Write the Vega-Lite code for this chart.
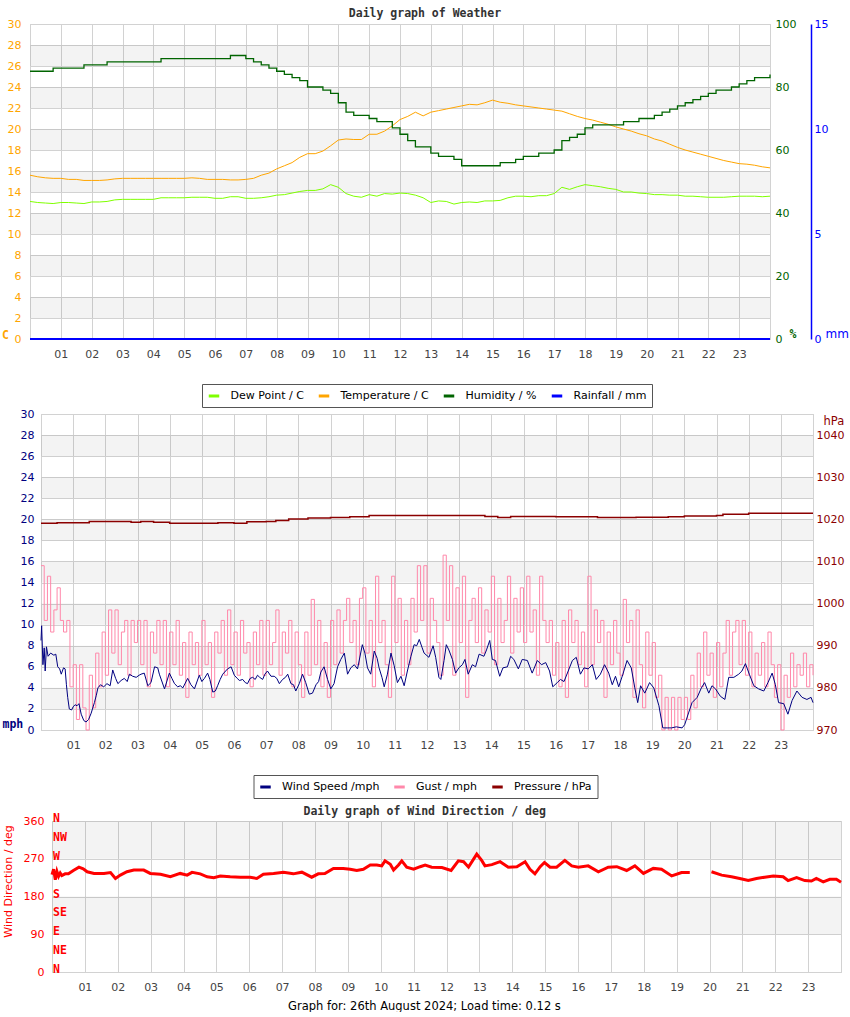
{
  "$schema": "https://vega.github.io/schema/vega-lite/v6.json",
  "background": "white",
  "padding": {"left": 0, "top": 7, "right": 0, "bottom": 0},
  "title": {"text": "Graph for: 26th August 2024; Load time: 0.12 s", "orient": "bottom", "anchor": "middle", "frame": "bounds", "font": "DejaVu Sans", "fontSize": 11.5, "fontWeight": "normal", "color": "#000000", "offset": 8},
  "spacing": -1,
  "resolve": {"scale": {"color": "independent"}, "legend": {"color": "independent"}},
  "datasets": {
    "bands30": [{"lo": 2, "hi": 4}, {"lo": 6, "hi": 8}, {"lo": 10, "hi": 12}, {"lo": 14, "hi": 16}, {"lo": 18, "hi": 20}, {"lo": 22, "hi": 24}, {"lo": 26, "hi": 28}],
    "bands360": [{"lo": 90, "hi": 180}, {"lo": 270, "hi": 360}],
    "rain": [{"h": 0, "r": 0}, {"h": 24, "r": 0}],
    "weather": [
      {"h":0,"t":15.6,"d":13.1,"u":85},{"h":0.25,"t":15.45,"d":13.0,"u":85},{"h":0.5,"t":15.35,"d":12.95,"u":85},{"h":0.75,"t":15.3,"d":12.9,"u":86},
      {"h":1,"t":15.3,"d":13.0,"u":86},{"h":1.25,"t":15.2,"d":13.0,"u":86},{"h":1.5,"t":15.2,"d":12.95,"u":86},{"h":1.75,"t":15.1,"d":12.9,"u":87},
      {"h":2,"t":15.1,"d":13.05,"u":87},{"h":2.25,"t":15.1,"d":13.05,"u":87},{"h":2.5,"t":15.15,"d":13.1,"u":88},{"h":2.75,"t":15.25,"d":13.25,"u":88},
      {"h":3,"t":15.3,"d":13.3,"u":88},{"h":3.25,"t":15.3,"d":13.3,"u":88},{"h":3.5,"t":15.3,"d":13.3,"u":88},{"h":3.75,"t":15.3,"d":13.3,"u":88},
      {"h":4,"t":15.3,"d":13.3,"u":88},{"h":4.25,"t":15.3,"d":13.45,"u":89},{"h":4.5,"t":15.3,"d":13.45,"u":89},{"h":4.75,"t":15.3,"d":13.45,"u":89},
      {"h":5,"t":15.3,"d":13.45,"u":89},{"h":5.25,"t":15.35,"d":13.5,"u":89},{"h":5.5,"t":15.3,"d":13.5,"u":89},{"h":5.75,"t":15.2,"d":13.5,"u":89},
      {"h":6,"t":15.2,"d":13.4,"u":89},{"h":6.25,"t":15.2,"d":13.4,"u":89},{"h":6.5,"t":15.15,"d":13.55,"u":90},{"h":6.75,"t":15.15,"d":13.55,"u":90},
      {"h":7,"t":15.2,"d":13.4,"u":89},{"h":7.25,"t":15.3,"d":13.4,"u":88},{"h":7.5,"t":15.6,"d":13.45,"u":87},{"h":7.75,"t":15.8,"d":13.55,"u":86},
      {"h":8,"t":16.2,"d":13.7,"u":85},{"h":8.25,"t":16.5,"d":13.75,"u":84},{"h":8.5,"t":16.8,"d":13.9,"u":83},{"h":8.75,"t":17.3,"d":14.05,"u":82},
      {"h":9,"t":17.65,"d":14.15,"u":80},{"h":9.25,"t":17.65,"d":14.15,"u":80},{"h":9.5,"t":17.9,"d":14.3,"u":79},{"h":9.75,"t":18.4,"d":14.7,"u":78},
      {"h":10,"t":18.95,"d":14.45,"u":75},{"h":10.25,"t":19.05,"d":13.85,"u":72},{"h":10.5,"t":19.0,"d":13.6,"u":71},{"h":10.75,"t":19.0,"d":13.5,"u":71},
      {"h":11,"t":19.5,"d":13.75,"u":70},{"h":11.25,"t":19.5,"d":13.6,"u":69},{"h":11.5,"t":19.8,"d":13.85,"u":69},{"h":11.75,"t":20.3,"d":13.8,"u":67},
      {"h":12,"t":20.9,"d":13.9,"u":65},{"h":12.25,"t":21.2,"d":13.85,"u":63},{"h":12.5,"t":21.6,"d":13.7,"u":61},{"h":12.75,"t":21.25,"d":13.45,"u":61},
      {"h":13,"t":21.6,"d":13.0,"u":59},{"h":13.25,"t":21.75,"d":13.15,"u":58},{"h":13.5,"t":21.9,"d":13.1,"u":58},{"h":13.75,"t":22.05,"d":12.85,"u":57},
      {"h":14,"t":22.2,"d":13.0,"u":55},{"h":14.25,"t":22.35,"d":13.05,"u":55},{"h":14.5,"t":22.3,"d":13.0,"u":55},{"h":14.75,"t":22.5,"d":13.15,"u":55},
      {"h":15,"t":22.75,"d":13.15,"u":55},{"h":15.25,"t":22.55,"d":13.2,"u":56},{"h":15.5,"t":22.45,"d":13.45,"u":56},{"h":15.75,"t":22.3,"d":13.6,"u":57},
      {"h":16,"t":22.2,"d":13.6,"u":58},{"h":16.25,"t":22.1,"d":13.55,"u":58},{"h":16.5,"t":22.0,"d":13.65,"u":59},{"h":16.75,"t":21.9,"d":13.65,"u":59},
      {"h":17,"t":21.8,"d":13.85,"u":60},{"h":17.25,"t":21.7,"d":14.45,"u":63},{"h":17.5,"t":21.45,"d":14.25,"u":64},{"h":17.75,"t":21.2,"d":14.5,"u":65},
      {"h":18,"t":21.0,"d":14.7,"u":67},{"h":18.25,"t":20.85,"d":14.6,"u":68},{"h":18.5,"t":20.65,"d":14.5,"u":68},{"h":18.75,"t":20.45,"d":14.35,"u":68},
      {"h":19,"t":20.2,"d":14.25,"u":68},{"h":19.25,"t":20.0,"d":14.0,"u":69},{"h":19.5,"t":19.8,"d":14.0,"u":69},{"h":19.75,"t":19.55,"d":13.9,"u":70},
      {"h":20,"t":19.35,"d":13.85,"u":70},{"h":20.25,"t":19.05,"d":13.75,"u":71},{"h":20.5,"t":18.85,"d":13.75,"u":72},{"h":20.75,"t":18.55,"d":13.7,"u":73},
      {"h":21,"t":18.25,"d":13.7,"u":74},{"h":21.25,"t":18.0,"d":13.6,"u":75},{"h":21.5,"t":17.8,"d":13.6,"u":76},{"h":21.75,"t":17.6,"d":13.55,"u":77},
      {"h":22,"t":17.4,"d":13.5,"u":78},{"h":22.25,"t":17.2,"d":13.5,"u":79},{"h":22.5,"t":17.0,"d":13.5,"u":79},{"h":22.75,"t":16.85,"d":13.55,"u":80},
      {"h":23,"t":16.7,"d":13.6,"u":81},{"h":23.25,"t":16.65,"d":13.6,"u":82},{"h":23.5,"t":16.55,"d":13.6,"u":83},{"h":23.75,"t":16.4,"d":13.55,"u":83},
      {"h":24,"t":16.3,"d":13.6,"u":84}
    ],
    "wind": [
      {"h":0,"s":8.5},{"h":0.02,"s":9.9},{"h":0.06,"s":6.2},{"h":0.1,"s":7.8},{"h":0.13,"s":5.6},{"h":0.17,"s":7.9},{"h":0.22,"s":7.0},{"h":0.3,"s":7.3},{"h":0.4,"s":7.1},{"h":0.46,"s":7.2},
      {"h":0.52,"s":6.0},{"h":0.58,"s":5.8},{"h":0.63,"s":5.3},{"h":0.7,"s":5.9},{"h":0.75,"s":5.8},{"h":0.79,"s":4.3},{"h":0.83,"s":3.1},{"h":0.88,"s":2.0},{"h":0.95,"s":1.9},{"h":1.0,"s":2.2},
      {"h":1.06,"s":2.4},{"h":1.12,"s":2.3},{"h":1.18,"s":2.5},{"h":1.25,"s":1.5},{"h":1.33,"s":0.9},{"h":1.4,"s":0.76},{"h":1.48,"s":1.0},{"h":1.56,"s":1.6},{"h":1.66,"s":2.6},{"h":1.72,"s":3.3},
      {"h":1.77,"s":4.0},{"h":1.85,"s":4.3},{"h":1.95,"s":4.1},{"h":2.05,"s":4.4},{"h":2.15,"s":4.2},{"h":2.23,"s":5.7},{"h":2.32,"s":4.9},{"h":2.39,"s":4.4},{"h":2.49,"s":4.7},{"h":2.59,"s":4.9},
      {"h":2.68,"s":4.6},{"h":2.75,"s":5.3},{"h":2.85,"s":5.1},{"h":2.96,"s":5.0},{"h":3.05,"s":5.2},{"h":3.11,"s":5.3},{"h":3.21,"s":5.4},{"h":3.32,"s":4.2},{"h":3.42,"s":4.5},{"h":3.53,"s":6.0},
      {"h":3.63,"s":5.9},{"h":3.68,"s":5.3},{"h":3.84,"s":3.9},{"h":3.99,"s":5.4},{"h":4.07,"s":4.9},{"h":4.15,"s":4.4},{"h":4.25,"s":4.1},{"h":4.33,"s":4.2},{"h":4.41,"s":4.0},{"h":4.56,"s":4.9},
      {"h":4.66,"s":4.3},{"h":4.77,"s":3.9},{"h":4.92,"s":5.2},{"h":5.0,"s":4.6},{"h":5.08,"s":4.9},{"h":5.18,"s":5.4},{"h":5.25,"s":4.8},{"h":5.34,"s":3.6},{"h":5.42,"s":3.7},{"h":5.49,"s":4.2},
      {"h":5.57,"s":4.8},{"h":5.65,"s":5.3},{"h":5.8,"s":5.8},{"h":5.91,"s":6.0},{"h":6.01,"s":5.2},{"h":6.1,"s":4.9},{"h":6.17,"s":4.7},{"h":6.27,"s":4.8},{"h":6.35,"s":4.5},{"h":6.42,"s":4.4},
      {"h":6.5,"s":4.9},{"h":6.58,"s":5.0},{"h":6.66,"s":4.8},{"h":6.73,"s":5.2},{"h":6.8,"s":5.0},{"h":6.89,"s":4.8},{"h":6.96,"s":5.3},{"h":7.04,"s":5.6},{"h":7.15,"s":5.1},{"h":7.25,"s":5.1},
      {"h":7.33,"s":4.9},{"h":7.41,"s":4.4},{"h":7.51,"s":4.8},{"h":7.6,"s":5.0},{"h":7.67,"s":5.3},{"h":7.77,"s":4.4},{"h":7.85,"s":4.3},{"h":7.92,"s":3.7},{"h":8.03,"s":4.4},{"h":8.13,"s":5.3},
      {"h":8.23,"s":4.5},{"h":8.34,"s":3.4},{"h":8.44,"s":3.5},{"h":8.55,"s":4.3},{"h":8.63,"s":4.6},{"h":8.7,"s":5.5},{"h":8.8,"s":6.0},{"h":8.91,"s":4.8},{"h":9.01,"s":3.9},{"h":9.11,"s":4.4},
      {"h":9.22,"s":6.0},{"h":9.32,"s":6.7},{"h":9.43,"s":7.3},{"h":9.53,"s":5.3},{"h":9.63,"s":5.9},{"h":9.74,"s":6.2},{"h":9.84,"s":5.8},{"h":9.99,"s":8.1},{"h":10.07,"s":7.3},{"h":10.15,"s":5.9},
      {"h":10.25,"s":5.3},{"h":10.36,"s":7.5},{"h":10.45,"s":6.8},{"h":10.51,"s":5.9},{"h":10.6,"s":5.0},{"h":10.67,"s":4.1},{"h":10.77,"s":5.3},{"h":10.88,"s":7.3},{"h":10.98,"s":6.1},{"h":11.08,"s":4.5},
      {"h":11.19,"s":5.1},{"h":11.29,"s":4.2},{"h":11.39,"s":5.6},{"h":11.5,"s":7.0},{"h":11.6,"s":8.1},{"h":11.68,"s":8.0},{"h":11.76,"s":8.6},{"h":11.85,"s":7.8},{"h":11.91,"s":7.3},{"h":12.06,"s":6.9},
      {"h":12.19,"s":8.0},{"h":12.27,"s":6.9},{"h":12.37,"s":5.0},{"h":12.43,"s":4.8},{"h":12.53,"s":6.6},{"h":12.6,"s":8.1},{"h":12.68,"s":7.6},{"h":12.79,"s":6.7},{"h":12.89,"s":5.4},{"h":12.99,"s":5.9},
      {"h":13.1,"s":6.2},{"h":13.18,"s":6.7},{"h":13.28,"s":5.3},{"h":13.41,"s":6.2},{"h":13.51,"s":6.0},{"h":13.62,"s":7.2},{"h":13.77,"s":7.0},{"h":13.85,"s":7.6},{"h":13.95,"s":8.5},{"h":14.03,"s":6.7},
      {"h":14.13,"s":6.6},{"h":14.26,"s":5.1},{"h":14.36,"s":5.9},{"h":14.5,"s":6.0},{"h":14.6,"s":7.0},{"h":14.7,"s":6.7},{"h":14.84,"s":5.8},{"h":14.96,"s":6.7},{"h":15.12,"s":6.6},{"h":15.27,"s":5.4},
      {"h":15.43,"s":6.6},{"h":15.56,"s":6.2},{"h":15.69,"s":6.4},{"h":15.81,"s":5.6},{"h":15.91,"s":4.1},{"h":16.05,"s":4.5},{"h":16.15,"s":4.8},{"h":16.26,"s":4.6},{"h":16.39,"s":5.6},{"h":16.52,"s":6.6},
      {"h":16.64,"s":6.9},{"h":16.77,"s":5.3},{"h":16.88,"s":5.9},{"h":17.01,"s":5.8},{"h":17.14,"s":6.2},{"h":17.26,"s":4.8},{"h":17.39,"s":5.3},{"h":17.52,"s":6.2},{"h":17.65,"s":5.4},{"h":17.76,"s":4.3},
      {"h":17.86,"s":5.1},{"h":17.96,"s":4.1},{"h":18.09,"s":5.3},{"h":18.22,"s":6.6},{"h":18.35,"s":5.9},{"h":18.46,"s":4.0},{"h":18.55,"s":2.6},{"h":18.64,"s":4.2},{"h":18.77,"s":3.5},{"h":18.92,"s":4.5},
      {"h":19.05,"s":4.0},{"h":19.21,"s":2.3},{"h":19.33,"s":0.2},{"h":19.47,"s":0.2},{"h":19.6,"s":0.2},{"h":19.75,"s":0.3},{"h":19.93,"s":0.2},{"h":20.01,"s":0.5},{"h":20.14,"s":1.7},{"h":20.24,"s":2.6},
      {"h":20.4,"s":3.1},{"h":20.53,"s":4.0},{"h":20.63,"s":4.5},{"h":20.76,"s":3.5},{"h":20.86,"s":4.2},{"h":20.97,"s":3.9},{"h":21.12,"s":3.2},{"h":21.26,"s":2.9},{"h":21.38,"s":5.0},{"h":21.54,"s":5.0},
      {"h":21.69,"s":5.3},{"h":21.79,"s":5.6},{"h":21.9,"s":6.3},{"h":22.02,"s":5.3},{"h":22.16,"s":4.2},{"h":22.31,"s":3.9},{"h":22.47,"s":3.7},{"h":22.6,"s":4.5},{"h":22.73,"s":5.4},{"h":22.83,"s":4.3},
      {"h":22.93,"s":2.6},{"h":23.09,"s":2.5},{"h":23.22,"s":1.5},{"h":23.35,"s":2.8},{"h":23.5,"s":3.7},{"h":23.66,"s":3.1},{"h":23.81,"s":2.9},{"h":23.94,"s":3.1},{"h":24,"s":2.6}
    ],
    "gust": [
      {"h":0,"g":15.6},{"h":0.1,"g":10.4},{"h":0.2,"g":14.6},{"h":0.3,"g":9.3},{"h":0.4,"g":11.4},{"h":0.5,"g":13.5},{"h":0.6,"g":10.4},{"h":0.7,"g":9.3},{"h":0.8,"g":10.4},{"h":0.9,"g":4.1},
      {"h":1,"g":6.2},{"h":1.1,"g":1.0},{"h":1.2,"g":6.2},{"h":1.3,"g":2.1},{"h":1.4,"g":0},{"h":1.5,"g":5.2},{"h":1.6,"g":2.1},{"h":1.7,"g":7.3},{"h":1.8,"g":4.1},{"h":1.9,"g":9.3},
      {"h":2,"g":5.2},{"h":2.1,"g":11.4},{"h":2.2,"g":7.3},{"h":2.3,"g":11.4},{"h":2.4,"g":6.2},{"h":2.5,"g":9.3},{"h":2.6,"g":10.4},{"h":2.7,"g":5.2},{"h":2.8,"g":10.4},{"h":2.9,"g":8.3},
      {"h":3,"g":10.4},{"h":3.1,"g":6.2},{"h":3.2,"g":10.4},{"h":3.3,"g":4.1},{"h":3.4,"g":9.3},{"h":3.5,"g":7.3},{"h":3.6,"g":10.4},{"h":3.7,"g":6.2},{"h":3.8,"g":10.4},{"h":3.9,"g":4.1},
      {"h":4,"g":9.3},{"h":4.1,"g":6.2},{"h":4.2,"g":10.4},{"h":4.3,"g":5.2},{"h":4.4,"g":8.3},{"h":4.5,"g":3.1},{"h":4.6,"g":9.3},{"h":4.7,"g":6.2},{"h":4.8,"g":8.3},{"h":4.9,"g":5.2},
      {"h":5,"g":10.4},{"h":5.1,"g":6.2},{"h":5.2,"g":8.3},{"h":5.3,"g":3.1},{"h":5.4,"g":9.3},{"h":5.5,"g":7.3},{"h":5.6,"g":10.4},{"h":5.7,"g":5.2},{"h":5.8,"g":11.4},{"h":5.9,"g":6.2},
      {"h":6,"g":9.3},{"h":6.1,"g":5.2},{"h":6.2,"g":10.4},{"h":6.3,"g":7.3},{"h":6.4,"g":8.3},{"h":6.5,"g":4.1},{"h":6.6,"g":9.3},{"h":6.7,"g":6.2},{"h":6.8,"g":10.4},{"h":6.9,"g":5.2},
      {"h":7,"g":10.4},{"h":7.1,"g":6.2},{"h":7.2,"g":8.3},{"h":7.3,"g":11.4},{"h":7.4,"g":5.2},{"h":7.5,"g":9.3},{"h":7.6,"g":7.3},{"h":7.7,"g":10.4},{"h":7.8,"g":4.1},{"h":7.9,"g":9.3},
      {"h":8,"g":6.2},{"h":8.1,"g":3.1},{"h":8.2,"g":9.3},{"h":8.3,"g":5.2},{"h":8.4,"g":12.4},{"h":8.5,"g":6.2},{"h":8.6,"g":10.4},{"h":8.7,"g":4.1},{"h":8.8,"g":8.3},{"h":8.9,"g":3.1},
      {"h":9,"g":10.4},{"h":9.1,"g":6.2},{"h":9.2,"g":11.4},{"h":9.3,"g":7.3},{"h":9.4,"g":10.4},{"h":9.5,"g":12.5},{"h":9.6,"g":8.3},{"h":9.7,"g":10.4},{"h":9.8,"g":6.2},{"h":9.9,"g":12.5},
      {"h":10,"g":13.5},{"h":10.1,"g":7.3},{"h":10.2,"g":10.4},{"h":10.3,"g":4.1},{"h":10.4,"g":14.6},{"h":10.5,"g":8.3},{"h":10.6,"g":10.4},{"h":10.7,"g":6.2},{"h":10.8,"g":3.1},{"h":10.9,"g":14.6},
      {"h":11,"g":8.3},{"h":11.1,"g":12.5},{"h":11.2,"g":5.2},{"h":11.3,"g":10.4},{"h":11.4,"g":6.2},{"h":11.5,"g":12.5},{"h":11.6,"g":9.3},{"h":11.7,"g":15.6},{"h":11.8,"g":10.4},{"h":11.9,"g":15.6},
      {"h":12,"g":7.3},{"h":12.1,"g":12.5},{"h":12.2,"g":10.4},{"h":12.3,"g":8.3},{"h":12.4,"g":5.2},{"h":12.5,"g":16.6},{"h":12.6,"g":10.4},{"h":12.7,"g":15.6},{"h":12.8,"g":5.2},{"h":12.9,"g":13.5},
      {"h":13,"g":8.3},{"h":13.1,"g":14.6},{"h":13.2,"g":3.1},{"h":13.3,"g":10.4},{"h":13.4,"g":12.5},{"h":13.5,"g":8.3},{"h":13.6,"g":13.5},{"h":13.7,"g":7.3},{"h":13.8,"g":11.4},{"h":13.9,"g":9.3},
      {"h":14,"g":14.6},{"h":14.1,"g":6.2},{"h":14.2,"g":12.5},{"h":14.3,"g":8.3},{"h":14.4,"g":10.4},{"h":14.5,"g":14.6},{"h":14.6,"g":7.3},{"h":14.7,"g":12.5},{"h":14.8,"g":9.3},{"h":14.9,"g":13.5},
      {"h":15,"g":8.3},{"h":15.1,"g":14.6},{"h":15.2,"g":9.3},{"h":15.3,"g":11.4},{"h":15.4,"g":5.2},{"h":15.5,"g":14.6},{"h":15.6,"g":10.4},{"h":15.7,"g":8.3},{"h":15.8,"g":10.4},{"h":15.9,"g":5.2},
      {"h":16,"g":8.3},{"h":16.1,"g":4.1},{"h":16.2,"g":10.4},{"h":16.3,"g":3.1},{"h":16.4,"g":11.4},{"h":16.5,"g":8.3},{"h":16.6,"g":10.4},{"h":16.7,"g":6.2},{"h":16.8,"g":9.3},{"h":16.9,"g":4.1},
      {"h":17,"g":14.6},{"h":17.1,"g":6.2},{"h":17.2,"g":11.4},{"h":17.3,"g":8.3},{"h":17.4,"g":10.4},{"h":17.5,"g":3.1},{"h":17.6,"g":9.3},{"h":17.7,"g":6.2},{"h":17.8,"g":10.4},{"h":17.9,"g":7.3},
      {"h":18,"g":5.2},{"h":18.1,"g":12.4},{"h":18.2,"g":8.3},{"h":18.3,"g":10.4},{"h":18.4,"g":3.1},{"h":18.5,"g":11.4},{"h":18.6,"g":6.2},{"h":18.7,"g":2.1},{"h":18.8,"g":9.3},{"h":18.9,"g":5.2},
      {"h":19,"g":8.3},{"h":19.1,"g":3.1},{"h":19.2,"g":5.2},{"h":19.3,"g":0},{"h":19.4,"g":3.1},{"h":19.5,"g":0},{"h":19.6,"g":3.1},{"h":19.7,"g":0},{"h":19.8,"g":3.1},{"h":19.9,"g":1.0},
      {"h":20,"g":3.1},{"h":20.1,"g":1.0},{"h":20.2,"g":5.2},{"h":20.3,"g":2.1},{"h":20.4,"g":7.3},{"h":20.5,"g":4.1},{"h":20.6,"g":9.3},{"h":20.7,"g":5.2},{"h":20.8,"g":7.3},{"h":20.9,"g":3.1},
      {"h":21,"g":8.3},{"h":21.1,"g":4.1},{"h":21.2,"g":7.3},{"h":21.3,"g":10.4},{"h":21.4,"g":5.2},{"h":21.5,"g":9.3},{"h":21.6,"g":10.4},{"h":21.7,"g":6.2},{"h":21.8,"g":10.4},{"h":21.9,"g":5.2},
      {"h":22,"g":9.3},{"h":22.1,"g":4.1},{"h":22.2,"g":7.3},{"h":22.3,"g":5.2},{"h":22.4,"g":8.3},{"h":22.5,"g":4.1},{"h":22.6,"g":9.3},{"h":22.7,"g":6.2},{"h":22.8,"g":3.1},{"h":22.9,"g":6.2},
      {"h":23,"g":0},{"h":23.1,"g":5.2},{"h":23.2,"g":3.1},{"h":23.3,"g":7.3},{"h":23.4,"g":4.1},{"h":23.5,"g":6.2},{"h":23.6,"g":5.2},{"h":23.7,"g":7.3},{"h":23.8,"g":4.1},{"h":23.9,"g":6.2},
      {"h":24,"g":5.2}
    ],
    "pres": [
      {"h":0,"p":1019.1},{"h":0.5,"p":1019.2},{"h":1.5,"p":1019.5},{"h":2.8,"p":1019.3},{"h":3.1,"p":1019.5},{"h":3.5,"p":1019.3},{"h":4.0,"p":1019.1},
      {"h":5.5,"p":1019.2},{"h":6.0,"p":1019.1},{"h":6.4,"p":1019.4},{"h":7.0,"p":1019.5},{"h":7.3,"p":1019.75},{"h":7.7,"p":1020.1},{"h":8.3,"p":1020.3},
      {"h":9.0,"p":1020.45},{"h":9.6,"p":1020.6},{"h":10.2,"p":1020.9},{"h":13.8,"p":1020.7},{"h":14.2,"p":1020.45},{"h":14.6,"p":1020.7},{"h":16.0,"p":1020.6},
      {"h":17.3,"p":1020.45},{"h":18.5,"p":1020.5},{"h":19.5,"p":1020.6},{"h":20.0,"p":1020.8},{"h":21.0,"p":1020.9},{"h":21.2,"p":1021.2},{"h":22.0,"p":1021.45},{"h":24,"p":1021.45}
    ],
    "dir": [
      {"h":0,"deg":232,"seg":"a"},{"h":0.05,"deg":245,"seg":"a"},{"h":0.1,"deg":220,"seg":"a"},{"h":0.15,"deg":240,"seg":"a"},{"h":0.2,"deg":228,"seg":"a"},{"h":0.25,"deg":236,"seg":"a"},{"h":0.3,"deg":230,"seg":"a"},
      {"h":0.4,"deg":234,"seg":"a"},{"h":0.5,"deg":234,"seg":"a"},{"h":0.65,"deg":242,"seg":"a"},{"h":0.82,"deg":250,"seg":"a"},{"h":0.95,"deg":246,"seg":"a"},{"h":1.07,"deg":239,"seg":"a"},
      {"h":1.28,"deg":235,"seg":"a"},{"h":1.58,"deg":235,"seg":"a"},{"h":1.78,"deg":237,"seg":"a"},{"h":1.93,"deg":223,"seg":"a"},{"h":2.08,"deg":231,"seg":"a"},{"h":2.28,"deg":239,"seg":"a"},
      {"h":2.49,"deg":243,"seg":"a"},{"h":2.79,"deg":243,"seg":"a"},{"h":2.99,"deg":235,"seg":"a"},{"h":3.3,"deg":233,"seg":"a"},{"h":3.6,"deg":227,"seg":"a"},{"h":3.9,"deg":235,"seg":"a"},
      {"h":4.11,"deg":231,"seg":"a"},{"h":4.26,"deg":237.5,"seg":"a"},{"h":4.51,"deg":234,"seg":"a"},{"h":4.72,"deg":227,"seg":"a"},{"h":4.92,"deg":225,"seg":"a"},{"h":5.12,"deg":229,"seg":"a"},
      {"h":5.42,"deg":227,"seg":"a"},{"h":5.73,"deg":226,"seg":"a"},{"h":6.03,"deg":226,"seg":"a"},{"h":6.23,"deg":223,"seg":"a"},{"h":6.43,"deg":233,"seg":"a"},{"h":6.74,"deg":235,"seg":"a"},
      {"h":7.04,"deg":238,"seg":"a"},{"h":7.34,"deg":234,"seg":"a"},{"h":7.6,"deg":238,"seg":"a"},{"h":7.9,"deg":226,"seg":"a"},{"h":8.1,"deg":234,"seg":"a"},{"h":8.3,"deg":235,"seg":"a"},
      {"h":8.56,"deg":247,"seg":"a"},{"h":8.86,"deg":247,"seg":"a"},{"h":9.07,"deg":245,"seg":"a"},{"h":9.27,"deg":242,"seg":"a"},{"h":9.47,"deg":245,"seg":"a"},{"h":9.68,"deg":255,"seg":"a"},
      {"h":9.88,"deg":255,"seg":"a"},{"h":10.03,"deg":253,"seg":"a"},{"h":10.13,"deg":265,"seg":"a"},{"h":10.29,"deg":257,"seg":"a"},{"h":10.39,"deg":243,"seg":"a"},{"h":10.54,"deg":255,"seg":"a"},
      {"h":10.64,"deg":265,"seg":"a"},{"h":10.79,"deg":250,"seg":"a"},{"h":11.0,"deg":245,"seg":"a"},{"h":11.2,"deg":251,"seg":"a"},{"h":11.35,"deg":255,"seg":"a"},{"h":11.55,"deg":250,"seg":"a"},
      {"h":11.86,"deg":249,"seg":"a"},{"h":12.14,"deg":242,"seg":"a"},{"h":12.36,"deg":265,"seg":"a"},{"h":12.52,"deg":263,"seg":"a"},{"h":12.67,"deg":250,"seg":"a"},{"h":12.92,"deg":281,"seg":"a"},
      {"h":13.07,"deg":266,"seg":"a"},{"h":13.17,"deg":253,"seg":"a"},{"h":13.38,"deg":256,"seg":"a"},{"h":13.63,"deg":263,"seg":"a"},{"h":13.88,"deg":250,"seg":"a"},{"h":14.14,"deg":251,"seg":"a"},
      {"h":14.39,"deg":263,"seg":"a"},{"h":14.54,"deg":245,"seg":"a"},{"h":14.69,"deg":234,"seg":"a"},{"h":14.85,"deg":251,"seg":"a"},{"h":14.98,"deg":261,"seg":"a"},{"h":15.15,"deg":250,"seg":"a"},
      {"h":15.35,"deg":250,"seg":"a"},{"h":15.6,"deg":266,"seg":"a"},{"h":15.81,"deg":253,"seg":"a"},{"h":16.01,"deg":250,"seg":"a"},{"h":16.31,"deg":253,"seg":"a"},{"h":16.62,"deg":239,"seg":"a"},
      {"h":16.92,"deg":250,"seg":"a"},{"h":17.18,"deg":251,"seg":"a"},{"h":17.48,"deg":242,"seg":"a"},{"h":17.73,"deg":253,"seg":"a"},{"h":17.99,"deg":235,"seg":"a"},{"h":18.29,"deg":247,"seg":"a"},
      {"h":18.54,"deg":245,"seg":"a"},{"h":18.85,"deg":229,"seg":"a"},{"h":19.15,"deg":237,"seg":"a"},{"h":19.4,"deg":237,"seg":"a"},
      {"h":20.06,"deg":239,"seg":"b"},{"h":20.37,"deg":231,"seg":"b"},{"h":20.67,"deg":227,"seg":"b"},{"h":20.92,"deg":223,"seg":"b"},{"h":21.18,"deg":218,"seg":"b"},{"h":21.43,"deg":223,"seg":"b"},
      {"h":21.68,"deg":226,"seg":"b"},{"h":21.94,"deg":229,"seg":"b"},{"h":22.24,"deg":227,"seg":"b"},{"h":22.39,"deg":218,"seg":"b"},{"h":22.65,"deg":225,"seg":"b"},{"h":22.9,"deg":218,"seg":"b"},
      {"h":23.1,"deg":217,"seg":"b"},{"h":23.25,"deg":223,"seg":"b"},{"h":23.46,"deg":215,"seg":"b"},{"h":23.66,"deg":221,"seg":"b"},{"h":23.86,"deg":221,"seg":"b"},{"h":24,"deg":214,"seg":"b"}
    ],
    "compass": [{"deg":360,"lab":"N"},{"deg":315,"lab":"NW"},{"deg":270,"lab":"W"},{"deg":180,"lab":"S"},{"deg":135,"lab":"SE"},{"deg":90,"lab":"E"},{"deg":45,"lab":"NE"},{"deg":0,"lab":"N"}]
  },
  "vconcat": [
    {
      "spacing": 0,
      "hconcat": [
        {"width": 1, "height": 1, "data": {"values": []}, "mark": "point", "view": {"stroke": null}},
        {
          "title": {"text": "Daily graph of Weather", "anchor": "middle", "frame": "bounds", "offset": -1},
          "width": 740,
          "height": 315,
          "layer": [
            {
              "data": {"name": "bands30"},
              "mark": {"type": "rect", "fill": "#000000", "fillOpacity": 0.047},
              "encoding": {
                "y": {"field": "lo", "type": "quantitative", "scale": {"domain": [0, 30], "nice": false, "zero": false},
                  "axis": {"orient": "left", "values": [0,2,4,6,8,10,12,14,16,18,20,22,24,26,28,30], "grid": true, "labelOverlap": false, "labelColor": "#ffa500", "labelPadding": 9,
                    "title": "C", "titleColor": "#ffa500", "titleAngle": 0, "titleAlign": "left", "titleBaseline": "alphabetic", "titleX": -28.5, "titleY": 314}},
                "y2": {"field": "hi"}
              }
            },
            {
              "data": {"name": "weather"},
              "mark": {"type": "line", "strokeWidth": 1},
              "encoding": {
                "x": {"field": "h", "type": "quantitative", "scale": {"domain": [0, 24], "nice": false, "zero": false},
                  "axis": {"tickCount": 24, "grid": true, "title": null, "labelPadding": 9, "labelOverlap": false,
                    "labelExpr": "datum.value == 0 || datum.value == 24 ? '' : datum.value < 10 ? '0' + datum.value : '' + datum.value"}},
                "y": {"field": "t", "type": "quantitative", "scale": {"domain": [0, 30], "nice": false, "zero": false}, "axis": null},
                "color": {"datum": "Temperature / C", "type": "nominal",
                  "scale": {"domain": ["Dew Point / C", "Temperature / C", "Humidity / %", "Rainfall / mm"], "range": ["#7fff00", "#ffa500", "#006400", "#0000ff"]},
                  "legend": {"orient": "none", "legendX": 202, "legendY": 360, "direction": "horizontal", "title": null}}
              }
            },
            {
              "data": {"name": "weather"},
              "mark": {"type": "line", "strokeWidth": 1},
              "encoding": {
                "x": {"field": "h", "type": "quantitative"},
                "y": {"field": "d", "type": "quantitative", "scale": {"domain": [0, 30], "nice": false, "zero": false}, "axis": null},
                "color": {"datum": "Dew Point / C", "type": "nominal"}
              }
            },
            {
              "data": {"name": "weather"},
              "mark": {"type": "line", "strokeWidth": 1.3, "interpolate": "step-after"},
              "encoding": {
                "x": {"field": "h", "type": "quantitative"},
                "y": {"field": "u", "type": "quantitative", "scale": {"domain": [0, 100], "nice": false, "zero": false},
                  "axis": {"orient": "right", "values": [0,20,40,60,80,100], "grid": false, "labelOverlap": false, "labelColor": "#006400", "labelPadding": 5,
                    "title": "%", "titleColor": "#006400", "titleAngle": 0, "titleAlign": "left", "titleBaseline": "alphabetic", "titleX": 19, "titleY": 313}},
                "color": {"datum": "Humidity / %", "type": "nominal"}
              }
            },
            {
              "data": {"name": "rain"},
              "mark": {"type": "line", "strokeWidth": 2},
              "encoding": {
                "x": {"field": "h", "type": "quantitative"},
                "y": {"field": "r", "type": "quantitative", "scale": {"domain": [0, 15], "nice": false, "zero": false},
                  "axis": {"orient": "right", "offset": 41, "values": [0,5,10,15], "grid": false, "labelOverlap": false, "domain": true, "domainColor": "#0000ff", "domainWidth": 1.5,
                    "labelColor": "#0000ff", "labelPadding": 3,
                    "title": "mm", "titleColor": "#0000ff", "titleFont": "DejaVu Sans", "titleFontWeight": "normal", "titleFontSize": 12,
                    "titleAngle": 0, "titleAlign": "left", "titleBaseline": "alphabetic", "titleX": 14, "titleY": 313}},
                "color": {"datum": "Rainfall / mm", "type": "nominal"}
              }
            }
          ],
          "resolve": {"scale": {"y": "independent"}}
        }
      ]
    },
    {
      "spacing": 6,
      "resolve": {"scale": {"color": "independent"}, "legend": {"color": "independent"}},
      "vconcat": [
        {
          "spacing": 0,
          "hconcat": [
            {"width": 1, "height": 1, "data": {"values": []}, "mark": "point", "view": {"stroke": null}},
            {
              "width": 772,
              "height": 316,
              "layer": [
                {
                  "data": {"name": "bands30"},
                  "mark": {"type": "rect", "fill": "#000000", "fillOpacity": 0.047},
                  "encoding": {
                    "y": {"field": "lo", "type": "quantitative", "scale": {"domain": [0, 30], "nice": false, "zero": false},
                      "axis": {"orient": "left", "values": [0,2,4,6,8,10,12,14,16,18,20,22,24,26,28,30], "grid": true, "labelOverlap": false, "labelColor": "#000080", "labelPadding": 7,
                        "title": "mph", "titleColor": "#000080", "titleAngle": 0, "titleAlign": "left", "titleBaseline": "alphabetic", "titleX": -39, "titleY": 313}},
                    "y2": {"field": "hi"}
                  }
                },
                {
                  "data": {"name": "gust"},
                  "mark": {"type": "line", "strokeWidth": 1, "interpolate": "step-after"},
                  "encoding": {
                    "x": {"field": "h", "type": "quantitative", "scale": {"domain": [0, 24], "nice": false, "zero": false},
                      "axis": {"tickCount": 24, "grid": true, "title": null, "labelPadding": 9, "labelOverlap": false,
                        "labelExpr": "datum.value == 0 || datum.value == 24 ? '' : datum.value < 10 ? '0' + datum.value : '' + datum.value"}},
                    "y": {"field": "g", "type": "quantitative", "scale": {"domain": [0, 30], "nice": false, "zero": false}, "axis": null},
                    "color": {"datum": "Gust / mph", "type": "nominal",
                      "scale": {"domain": ["Wind Speed /mph", "Gust / mph", "Pressure / hPa"], "range": ["#000080", "#ff88aa", "#8b0000"]},
                      "legend": {"orient": "none", "legendX": 253.5, "legendY": 361, "direction": "horizontal", "title": null}}
                  }
                },
                {
                  "data": {"name": "wind"},
                  "mark": {"type": "line", "strokeWidth": 1},
                  "encoding": {
                    "x": {"field": "h", "type": "quantitative"},
                    "y": {"field": "s", "type": "quantitative", "scale": {"domain": [0, 30], "nice": false, "zero": false}, "axis": null},
                    "color": {"datum": "Wind Speed /mph", "type": "nominal"}
                  }
                },
                {
                  "data": {"name": "pres"},
                  "mark": {"type": "line", "strokeWidth": 1.5, "interpolate": "step-after"},
                  "encoding": {
                    "x": {"field": "h", "type": "quantitative"},
                    "y": {"field": "p", "type": "quantitative", "scale": {"domain": [970, 1045], "nice": false, "zero": false},
                      "axis": {"orient": "right", "values": [970,980,990,1000,1010,1020,1030,1040], "format": "d", "grid": false, "labelOverlap": false, "labelColor": "#8b0000", "labelPadding": 3,
                        "title": "hPa", "titleColor": "#8b0000", "titleFont": "DejaVu Sans", "titleFontWeight": "normal", "titleFontSize": 11.5,
                        "titleAngle": 0, "titleAlign": "left", "titleBaseline": "alphabetic", "titleX": 10, "titleY": 10}},
                    "color": {"datum": "Pressure / hPa", "type": "nominal"}
                  }
                }
              ],
              "resolve": {"scale": {"y": "independent"}}
            }
          ]
        },
        {
          "spacing": 0,
          "hconcat": [
            {"width": 1, "height": 1, "data": {"values": []}, "mark": "point", "view": {"stroke": null}},
            {
              "title": {"text": "Daily graph of Wind Direction / deg", "anchor": "middle", "frame": "bounds", "offset": -4},
              "width": 789,
              "height": 151,
              "layer": [
                {
                  "data": {"name": "bands360"},
                  "mark": {"type": "rect", "fill": "#000000", "fillOpacity": 0.047},
                  "encoding": {
                    "y": {"field": "lo", "type": "quantitative", "scale": {"domain": [0, 360], "nice": false, "zero": false},
                      "axis": {"orient": "left", "values": [0, 90, 180, 270, 360], "grid": true, "labelOverlap": false, "labelColor": "#ff0000", "labelPadding": 8,
                        "title": "Wind Direction / deg", "titleColor": "#ff0000", "titleFont": "DejaVu Sans", "titleFontWeight": "normal", "titleFontSize": 11,
                        "titleAngle": 270, "titleAlign": "center", "titleBaseline": "middle", "titleX": -43.7, "titleY": 60}},
                    "y2": {"field": "hi"}
                  }
                },
                {
                  "data": {"name": "dir"},
                  "mark": {"type": "line", "strokeWidth": 3, "color": "#ff0000"},
                  "encoding": {
                    "x": {"field": "h", "type": "quantitative", "scale": {"domain": [0, 24], "nice": false, "zero": false},
                      "axis": {"tickCount": 24, "grid": true, "title": null, "labelPadding": 9, "labelOverlap": false,
                        "labelExpr": "datum.value == 0 || datum.value == 24 ? '' : datum.value < 10 ? '0' + datum.value : '' + datum.value"}},
                    "y": {"field": "deg", "type": "quantitative", "scale": {"domain": [0, 360], "nice": false, "zero": false}, "axis": null},
                    "detail": {"field": "seg", "type": "nominal"}
                  }
                },
                {
                  "data": {"name": "compass"},
                  "mark": {"type": "text", "align": "left", "baseline": "middle", "dx": 1, "dy": -2, "font": "DejaVu Sans Mono", "fontWeight": "bold", "fontSize": 11.5, "color": "#ff0000"},
                  "encoding": {
                    "x": {"datum": 0, "type": "quantitative"},
                    "y": {"field": "deg", "type": "quantitative", "scale": {"domain": [0, 360], "nice": false, "zero": false}, "axis": null},
                    "text": {"field": "lab", "type": "nominal"}
                  }
                }
              ],
              "resolve": {"scale": {"y": "independent"}}
            }
          ]
        }
      ]
    }
  ],
  "config": {
    "view": {"stroke": "#c8c8c8", "strokeWidth": 1},
    "axis": {"domain": false, "ticks": false, "labelFont": "DejaVu Sans", "labelFontSize": 11, "labelColor": "#444444", "gridColor": "#d2d2d2", "gridWidth": 1,
      "labelOverlap": false, "labelBound": false, "titleFont": "DejaVu Sans Mono", "titleFontSize": 11.5, "titleFontWeight": "bold"},
    "title": {"font": "DejaVu Sans Mono", "fontSize": 11.5, "fontWeight": "bold", "color": "#333333"},
    "legend": {"symbolType": "stroke", "symbolStrokeWidth": 3, "symbolSize": 110, "labelFont": "DejaVu Sans", "labelFontSize": 11, "labelColor": "#000000",
      "labelOffset": 9.5, "columnPadding": 8, "padding": 5, "strokeColor": "#555555", "fillColor": "#ffffff"}
  }
}
